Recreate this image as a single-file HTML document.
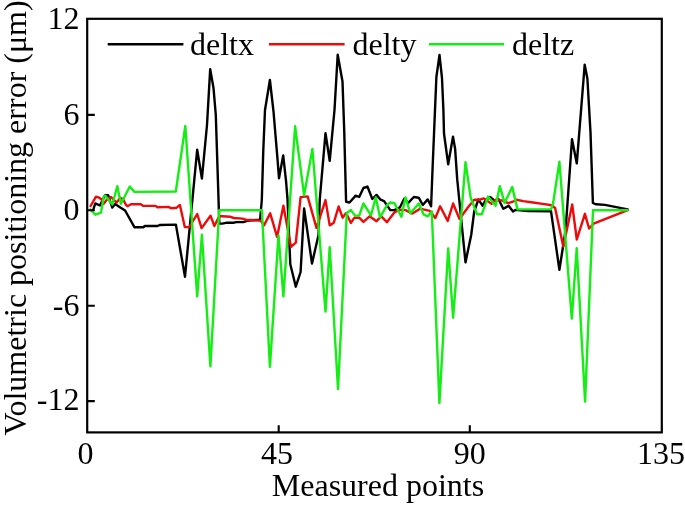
<!DOCTYPE html>
<html><head><meta charset="utf-8"><style>
html,body{margin:0;padding:0;background:#fff;}
body{width:685px;height:506px;overflow:hidden;}
svg{display:block;will-change:transform;}
text{font-family:"Liberation Serif",serif;fill:#000;}
</style></head><body>
<svg width="685" height="506" viewBox="0 0 685 506">
<rect x="0" y="0" width="685" height="506" fill="#fff"/>
<g fill="none" stroke-linejoin="round" stroke-linecap="round" stroke-width="2.4">
<polyline stroke="#000" points="91.5,210.6 93.0,210.5 95.3,203.4 99.9,205.5 104.9,195.5 108.1,195.2 112.3,207.6 115.2,204.1 119.5,206.9 125.1,210.5 134.4,227.2 143.3,227.2 144.8,226.0 157.6,226.0 159.6,225.0 175.9,224.6 185.0,276.7 197.2,149.7 201.9,178.6 207.0,125.0 210.2,69.1 213.5,88.0 215.8,115.0 219.3,223.5 222.3,223.6 227.0,222.6 234.0,222.7 236.4,222.1 243.5,222.1 247.0,220.9 251.8,220.3 260.1,219.7 261.8,200.0 263.3,150.0 265.0,110.0 269.9,80.0 273.5,111.5 277.7,161.3 279.0,178.3 283.2,155.4 286.0,180.7 287.5,199.2 290.3,264.2 295.8,286.7 300.6,272.0 304.1,208.4 312.0,263.5 318.5,235.0 319.8,199.0 325.5,133.1 329.7,160.8 334.5,110.0 337.7,54.8 342.5,81.5 344.2,130.0 346.1,201.8 349.5,202.5 355.7,195.6 359.2,197.0 363.4,188.0 367.5,186.6 372.3,199.0 376.5,194.9 380.6,199.7 384.1,201.1 390.3,210.1 394.5,210.1 400.0,207.3 404.2,198.7 408.3,202.9 413.8,197.0 418.7,197.7 422.8,205.0 427.7,199.4 431.1,206.3 432.5,170.0 435.0,110.0 436.4,76.8 439.5,55.0 442.0,78.2 443.4,110.0 444.0,133.5 448.2,164.3 453.0,136.6 455.1,148.7 457.2,179.2 465.5,262.4 471.2,235.0 474.2,211.5 478.4,199.4 482.5,205.7 486.0,199.7 490.1,197.0 495.0,201.1 498.4,199.0 503.3,208.7 505.0,207.9 508.6,205.8 513.0,211.5 515.4,209.9 528.0,211.0 551.0,211.2 559.4,269.8 565.6,230.0 572.0,139.3 576.8,163.4 584.7,64.7 587.4,78.7 590.5,132.4 592.9,203.0 596.1,204.3 605.0,204.9 627.7,209.4"/>
<polyline stroke="#ec0a0a" points="90.6,206.0 96.0,196.6 99.2,197.7 101.7,199.4 103.4,204.1 106.6,200.1 110.9,197.0 116.6,202.6 120.2,197.7 123.0,199.1 125.9,204.8 127.5,206.2 130.9,204.2 140.8,204.2 143.3,205.9 155.6,205.9 157.6,207.2 168.5,206.9 171.0,208.2 176.4,207.8 179.9,204.9 184.8,227.1 189.3,227.1 197.2,214.0 201.6,228.1 210.5,215.7 214.4,226.1 218.4,217.7 220.4,216.2 222.1,216.2 230.4,216.8 234.0,218.0 242.3,218.6 245.8,219.7 254.1,220.3 260.5,220.6 264.0,225.4 270.2,213.3 277.1,236.9 283.4,205.7 291.0,246.9 295.8,242.7 300.6,197.1 307.6,196.4 316.5,227.9 325.5,200.1 329.7,225.4 333.8,222.7 338.6,206.5 342.6,217.7 346.1,212.9 350.9,222.9 354.4,217.7 359.2,217.7 363.4,221.9 369.6,216.3 376.5,221.2 381.3,216.3 386.9,222.2 394.5,212.2 400.0,209.8 405.5,210.1 412.4,213.6 420.0,208.7 429.7,210.8 435.3,218.1 440.1,206.3 447.7,220.9 453.1,203.5 459.5,219.0 468.0,207.3 474.2,199.7 479.7,199.7 483.9,198.4 491.5,203.9 495.6,199.7 501.9,200.4 508.1,203.2 514.3,201.1 516.4,199.7 523.3,201.1 533.0,202.5 542.7,203.9 551.7,205.3 555.1,208.0 563.3,246.5 572.2,204.5 576.8,239.5 584.9,213.8 589.1,228.5 593.6,223.6 627.7,210.2"/>
<polyline stroke="#14ee14" points="90.3,209.4 95.3,214.7 101.0,212.6 103.8,196.2 105.6,195.9 112.3,204.5 117.3,186.2 120.9,203.8 129.8,186.5 134.4,191.9 175.8,191.5 185.3,126.0 197.2,296.4 201.9,234.8 210.4,366.4 219.2,210.2 261.9,210.2 269.9,366.9 278.5,235.4 283.4,296.3 295.1,126.3 304.1,195.4 312.4,149.0 325.5,311.6 329.7,247.2 338.0,389.0 346.8,212.9 350.9,210.1 355.0,215.6 359.2,215.6 363.4,203.5 371.0,215.3 375.8,197.3 380.0,217.4 386.9,205.3 390.3,202.5 394.5,203.2 401.4,216.7 405.5,197.3 410.4,213.3 418.7,203.5 423.5,214.3 427.7,216.3 431.8,211.5 439.4,403.1 448.2,248.4 453.1,317.7 465.5,162.2 470.7,197.7 477.0,214.3 481.8,214.3 488.0,196.6 495.6,205.7 499.8,186.2 504.6,202.9 512.2,186.9 517.5,209.4 551.0,209.4 553.0,203.9 559.4,161.8 571.8,318.6 576.7,248.3 585.1,401.6 593.0,210.2 627.7,210.2"/>
</g>
<g stroke="#000" stroke-width="2.2" fill="none">
<rect x="87.2" y="18.8" width="574.5999999999999" height="413.59999999999997"/>
<path d="M87.2,114.9h7.6M87.2,210.3h7.6M87.2,305.7h7.6M87.2,401.1h7.6M278.7,432.4v-7.2M469.8,432.4v-7.2" stroke-width="2.1"/>
</g>
<g stroke-width="2.4" fill="none">
<line x1="107.7" y1="44.2" x2="183.4" y2="44.2" stroke="#000"/>
<line x1="268.9" y1="44.2" x2="344.6" y2="44.2" stroke="#ec0a0a"/>
<line x1="428.9" y1="44.2" x2="504.1" y2="44.2" stroke="#14ee14"/>
</g>
<g font-size="32">
<text x="190" y="54.7">deltx</text>
<text x="352.5" y="54.7">delty</text>
<text x="512" y="54.7">deltz</text>
<g text-anchor="end">
<text x="79.5" y="29.3">12</text>
<text x="79.5" y="125">6</text>
<text x="79.5" y="220.2">0</text>
<text x="79.5" y="316">-6</text>
<text x="79.5" y="410.2">-12</text>
</g>
<g text-anchor="middle">
<text x="85.5" y="463.6">0</text>
<text x="277" y="463.6">45</text>
<text x="469.75" y="463.6">90</text>
<text x="660.9" y="463.6">135</text>
<text x="378" y="496">Measured points</text>
</g>
<text transform="translate(26,435.5) rotate(-90)">Volumetric positioning error (μm)</text>
</g>
</svg>
</body></html>
